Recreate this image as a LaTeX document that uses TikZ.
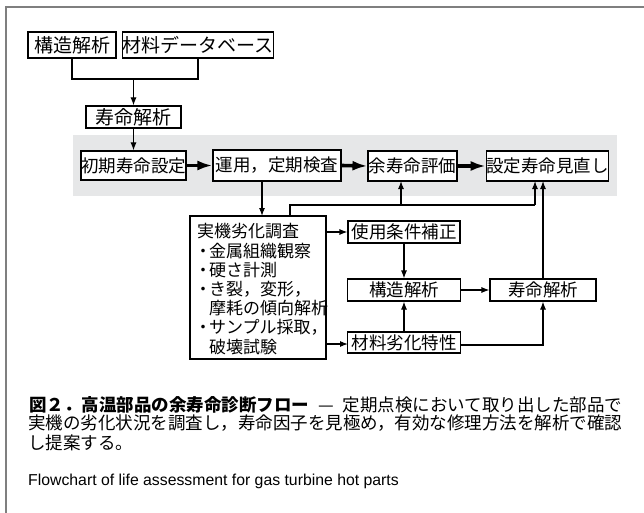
\documentclass[tikz,border=0pt]{standalone}
\usepackage{fontspec}
\setmainfont{Noto Sans CJK JP}
\newfontfamily\enfont{Liberation Sans}
\usetikzlibrary{arrows.meta}
\XeTeXlinebreaklocale "ja"
\XeTeXlinebreakskip=0pt plus 3pt
\definecolor{bandgray}{HTML}{E6E7E8}
\definecolor{framegray}{HTML}{7F7F7F}
\tikzset{
  box/.style={draw=black, line width=1.1pt, fill=white, inner sep=0pt, font=\fontsize{17.5}{19}\selectfont},
  bigbox/.style={box, font=\fontsize{19}{21}\selectfont},
  ln/.style={line width=1.1pt},
  arr/.style={ln, -{Latex[length=8pt,width=6pt]}},
  bigarr/.style={line width=3.6pt, -{Latex[length=15pt,width=10pt]}},
  txt/.style={inner sep=0pt},
}
\begin{document}
\begin{tikzpicture}[x=1pt,y=-1pt]
\useasboundingbox (0,0) rectangle (644,513);
\fill[white] (0,0) rectangle (644,513);
% frame
\draw[framegray, line width=1.5pt] (6,513) -- (6,7) -- (644,7);
% band
\fill[bandgray] (73,135) rectangle (617,196);

% top boxes
\node[bigbox, minimum width=88pt, minimum height=26pt] (s1) at (72,45) {構造解析};
\node[bigbox, minimum width=148pt, minimum height=26pt] (s2) at (198,45) {材料データベース};
\node[bigbox, minimum width=95pt, minimum height=22pt] (s3) at (133.5,117) {寿命解析};

% band boxes
\node[box, minimum width=105pt, minimum height=29pt] (b1) at (133.5,165.5) {初期寿命設定};
\node[box, minimum width=128pt, minimum height=31pt] (b2) at (277,165.5) {運用，定期検査};
\node[box, minimum width=89pt, minimum height=30pt] (b3) at (412.5,166) {余寿命評価};
\node[box, minimum width=119pt, minimum height=30pt] (b4) at (547.5,166) {設定寿命見直し};

% lower boxes
\node[box, minimum width=136pt, minimum height=143pt] (j) at (258,287.5) {};
\node[txt, anchor=north west, align=left, font=\fontsize{17}{19.2}\selectfont] (jt) at (197,223.5)
  {実機劣化調査\\
   \makebox[12pt][c]{・}金属組織観察\\
   \makebox[12pt][c]{・}硬さ計測\\
   \makebox[12pt][c]{・}き裂，変形，\\
   \makebox[12pt][c]{}摩耗の傾向解析\\
   \makebox[12pt][c]{・}サンプル採取，\\
   \makebox[12pt][c]{}破壊試験};
\node[box, minimum width=112pt, minimum height=22pt] (u) at (404,232) {使用条件補正};
\node[box, minimum width=113pt, minimum height=22pt] (k) at (404,290) {構造解析};
\node[box, minimum width=106pt, minimum height=22pt] (l) at (543,290) {寿命解析};
\node[box, minimum width=113pt, minimum height=21pt] (m) at (404,342.5) {材料劣化特性};

% coordinates
\coordinate (jn) at (133.5,79);
\coordinate (d1) at (262,181);
\coordinate (d2) at (262,216);
\coordinate (r1) at (290,216);
\coordinate (r2) at (290,205);
\coordinate (r3) at (401,205);
\coordinate (r4) at (535,205);
\coordinate (r3t) at (401,181);
\coordinate (r4t) at (535,181);
\coordinate (lt) at (543,181);
\coordinate (ja) at (326,232);
\coordinate (jb) at (326,344);
\coordinate (mb) at (348,344);
\coordinate (me) at (461,345);
\coordinate (mc) at (543,345);

% connectors
\draw[ln] (s1.south) |- (jn) -| (s2.south);
\draw[arr] (jn) -- (s3.north);
\draw[arr] (s3.south) -- (b1.north);
\draw[bigarr] (b1.east) -- (b2.west);
\draw[bigarr] (b2.east) -- (b3.west);
\draw[bigarr] (b3.east) -- (b4.west);
\draw[arr] (d1) -- (d2);
\draw[ln] (r1) -- (r2) -- (r4);
\draw[arr] (r3) -- (r3t);
\draw[arr] (r4) -- (r4t);
\draw[arr] (l.north) -- (lt);
\draw[arr] (ja) -- (u.west);
\draw[arr] (u.south) -- (k.north);
\draw[arr] (k.east) -- (l.west);
\draw[arr] (jb) -- (mb);
\draw[arr] (m.north) -- (k.south);
\draw[arr] (me) -- (mc) -- (l.south);

% caption
\node[txt, anchor=west, font=\fontsize{17.5}{19}\selectfont] (c1) at (29,405)
  {\makebox[593pt][s]{\bfseries 図２．高温部品の余寿命診断フロー\mdseries\ —\ 定期点検において取り出した部品で}};
\node[txt, anchor=west, font=\fontsize{17.5}{19}\selectfont] (c2) at (28,423.5)
  {\makebox[599pt][s]{実機の劣化状況を調査し，寿命因子を見極め，有効な修理方法を解析で確認}};
\node[txt, anchor=west, font=\fontsize{17.5}{19}\selectfont] (c3) at (28,443)
  {し提案する。};
\node[txt, anchor=base west, font=\enfont\fontsize{15.8}{17}\selectfont] (c4) at (28,485)
  {Flowchart of life assessment for gas turbine hot parts};
\end{tikzpicture}
\end{document}
